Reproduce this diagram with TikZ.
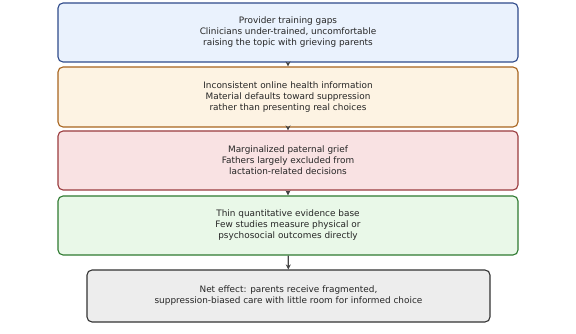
\documentclass[tikz,border=0pt]{standalone}
\usepackage{fontspec}
\setmainfont{DejaVu Sans}
\usetikzlibrary{arrows.meta}
\definecolor{b1d}{HTML}{2E4A8A}\definecolor{b1f}{HTML}{EAF2FD}
\definecolor{b2d}{HTML}{A8641E}\definecolor{b2f}{HTML}{FDF3E3}
\definecolor{b3d}{HTML}{9A3B3E}\definecolor{b3f}{HTML}{F9E2E3}
\definecolor{b4d}{HTML}{2E7A30}\definecolor{b4f}{HTML}{E9F8E8}
\definecolor{b5d}{HTML}{333333}\definecolor{b5f}{HTML}{EDEDED}
\definecolor{arr}{HTML}{444444}
\tikzset{
  boxstyle/.style={rectangle, rounded corners=5pt, line width=1.1pt, align=center,
    font=\fontsize{8.9}{11}\selectfont, inner sep=0pt, text=black!85},
  conn/.style={-{Stealth[length=5pt,width=5pt]}, arr, line width=1.1pt}
}
\begin{document}
\begin{tikzpicture}[x=1pt,y=-1pt]
\useasboundingbox (0,0) rectangle (576,334);
\node[boxstyle, draw=b1d, fill=b1f, minimum width=460pt, minimum height=59pt] (a) at (288,32.5)
  {Provider training gaps\\Clinicians under-trained, uncomfortable\\raising the topic with grieving parents};
\node[boxstyle, draw=b2d, fill=b2f, minimum width=460pt, minimum height=60pt] (b) at (288,97)
  {Inconsistent online health information\\Material defaults toward suppression\\rather than presenting real choices};
\node[boxstyle, draw=b3d, fill=b3f, minimum width=460pt, minimum height=59pt] (c) at (288,160.5)
  {Marginalized paternal grief\\Fathers largely excluded from\\lactation-related decisions};
\node[boxstyle, draw=b4d, fill=b4f, minimum width=460pt, minimum height=59pt] (d) at (288,225.5)
  {Thin quantitative evidence base\\Few studies measure physical or\\psychosocial outcomes directly};
\node[boxstyle, draw=b5d, fill=b5f, minimum width=403pt, minimum height=52pt] (e) at (288.5,296)
  {Net effect: parents receive fragmented,\\suppression-biased care with little room for informed choice};
\draw[conn] (a) -- (b);
\draw[conn] (b) -- (c);
\draw[conn] (c) -- (d);
\draw[conn] (d) -- (e);
\end{tikzpicture}
\end{document}
